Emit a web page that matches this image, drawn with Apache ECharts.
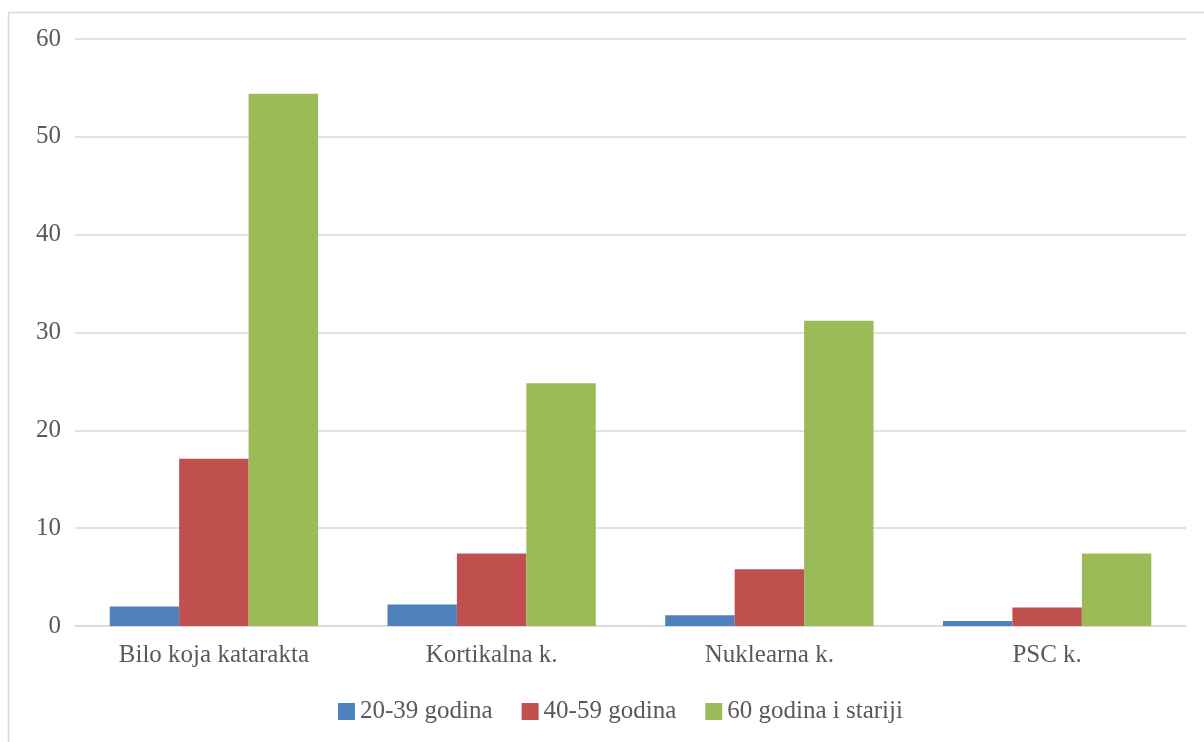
<!DOCTYPE html>
<html><head><meta charset="utf-8">
<script src="https://cdn.jsdelivr.net/npm/echarts@6/dist/echarts.min.js"></script>
<style>html,body{margin:0;padding:0;background:#fff}#c{width:1204px;height:742px}</style>
</head><body><div id="c"></div>
<script>
const categories = ['Bilo koja katarakta', 'Kortikalna k.', 'Nuklearna k.', 'PSC k.'];
const seriesNames = ['20-39 godina', '40-59 godina', '60 godina i stariji'];
const s1 = [2.0, 2.2, 1.1, 0.5];
const s2 = [17.1, 7.4, 5.8, 1.9];
const s3 = [54.4, 24.8, 31.2, 7.4];
const colors = ['#4f81bd', '#c0504d', '#9bbb59'];
const font = '"Liberation Serif", "DejaVu Serif", serif';
const chart = echarts.init(document.getElementById('c'));
chart.setOption({
  animation: false,
  textStyle: {fontFamily: font},
  graphic: [{type: 'rect', shape: {x: 8.5, y: 12.5, width: 1220, height: 760}, style: {fill: 'none', stroke: '#d9d9d9', lineWidth: 1.5}, z: -1}],
  grid: {left: 75, right: 18, top: 39, bottom: 116, containLabel: false},
  legend: {
    top: 694, left: 333, itemWidth: 17, itemHeight: 17, itemGap: 29,
    icon: 'rect',
    textStyle: {fontFamily: font, fontSize: 25, color: '#595959', padding: [0, 0, 0, 0]},
    data: seriesNames
  },
  xAxis: {
    type: 'category', data: categories,
    axisLine: {lineStyle: {color: '#d9d9d9', width: 1.5}},
    axisTick: {show: false},
    axisLabel: {fontFamily: font, fontSize: 25, color: '#595959', margin: 17}
  },
  yAxis: {
    type: 'value', min: 0, max: 60, interval: 10,
    axisLine: {show: false}, axisTick: {show: false},
    splitLine: {lineStyle: {color: '#d9d9d9', width: 1.5}},
    axisLabel: {fontFamily: font, fontSize: 25, color: '#595959', margin: 14}
  },
  series: [s1, s2, s3].map((d, i) => ({
    name: seriesNames[i], type: 'bar', data: d,
    itemStyle: {color: colors[i]},
    barGap: '0%', barCategoryGap: '25%'
  }))
});
</script></body></html>
